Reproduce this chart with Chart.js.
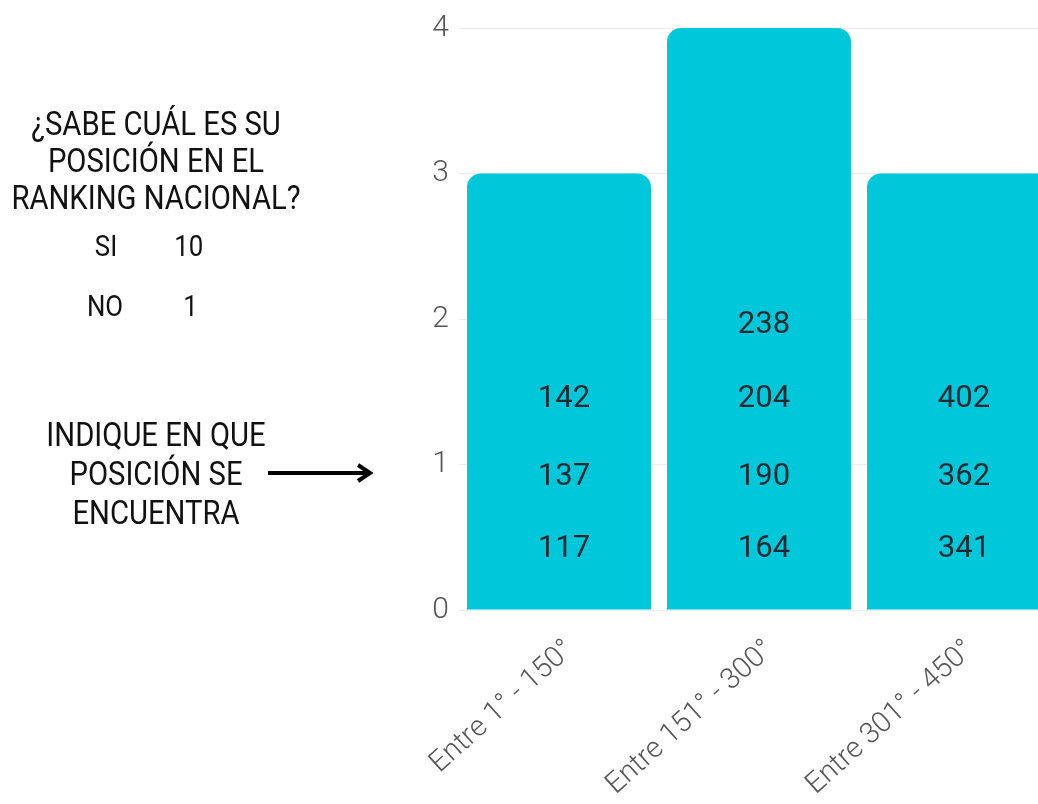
<!DOCTYPE html>
<html lang="es">

<head>
    <meta charset="UTF-8">
    <script src="https://cdn.jsdelivr.net/npm/chart.js@4.4.1/dist/chart.umd.min.js"></script>
    <title>Ranking nacional</title>
    <style>
        html, body { margin: 0; padding: 0; background: #fff; overflow: hidden; width: 1038px; height: 804px; }
        .wrap { position: relative; width: 1038px; height: 804px; overflow: hidden; }
        #rankChart { position: absolute; left: 0; top: 0; }
        .note { position: absolute; font-family: Roboto, sans-serif; color: #111; font-size: 34px; text-align: center; white-space: nowrap; }
        .note div { transform: scaleX(0.86); transform-origin: center; }
        .q { left: -44px; width: 400px; top: 105px; line-height: 37px; }
        .ind { left: -44px; width: 400px; top: 415px; line-height: 39px; }
        .ans { position: absolute; font-family: Roboto, sans-serif; font-size: 30px; color: #111; line-height: 34px; }
        .arrow { position: absolute; left: 262px; top: 460px; }
    </style>
</head>

<body>
    <div class="wrap">
        <canvas id="rankChart" width="1100" height="804"></canvas>

        <!-- left side notes -->
        <div class="note q">
            <div>¿SABE CUÁL ES SU</div>
            <div>POSICIÓN EN EL</div>
            <div>RANKING NACIONAL?</div>
        </div>
        <div id="answers"></div>
        <div class="note ind">
            <div>INDIQUE EN QUE</div>
            <div>POSICIÓN SE</div>
            <div>ENCUENTRA</div>
        </div>
        <svg class="arrow" width="120" height="30">
            <line x1="6" y1="13" x2="106" y2="13" stroke="#000" stroke-width="4" />
            <polyline points="96,5 108,13 96,21" fill="none" stroke="#000" stroke-width="4" stroke-linejoin="miter" />
        </svg>
    </div>

    <script>
        // data
        const categories = ['Entre 1° - 150°', 'Entre 151° - 300°', 'Entre 301° - 450°'];
        const counts = [3, 4, 3];
        const yTicks = [0, 1, 2, 3, 4];
        // positions reported inside each bar (bottom to top)
        const rankCat1 = [117, 137, 142];
        const rankCat2 = [164, 190, 204, 238];
        const rankCat3 = [341, 362, 402];
        const rankLevels = [0.42, 0.91, 1.45, 1.96];
        const answers = ['SI', 'NO'];
        const answerCounts = [10, 1];

        // SI / NO counts
        const ansBox = document.getElementById('answers');
        answers.forEach(function (a, i) {
            const top = 229 + i * 60;
            ansBox.insertAdjacentHTML('beforeend',
                '<div class="ans" style="left:' + (i ? 84 : 93) + 'px;top:' + top + 'px;transform:scaleX(0.86)">' + a + '</div>' +
                '<div class="ans" style="left:' + (i ? 182 : 172) + 'px;top:' + top + 'px;transform:scaleX(0.86)">' + answerCounts[i] + '</div>');
        });

        // numbers written inside the bars
        const rankLabels = {
            id: 'rankLabels',
            afterDatasetsDraw(chart) {
                const ctx = chart.ctx;
                const y = chart.scales.y;
                const meta = chart.getDatasetMeta(0);
                const lists = [rankCat1, rankCat2, rankCat3];
                ctx.save();
                ctx.font = '400 31px Roboto';
                ctx.fillStyle = '#1e2a30';
                ctx.textAlign = 'center';
                ctx.textBaseline = 'middle';
                lists.forEach(function (list, i) {
                    list.forEach(function (v, j) {
                        ctx.fillText(String(v), meta.data[i].x + 5, y.getPixelForValue(rankLevels[j]));
                    });
                });
                ctx.restore();
            }
        };

        const ctx = document.getElementById('rankChart').getContext('2d');
        const rankChart = new Chart(ctx, {
            type: 'bar',
            data: {
                labels: categories,
                datasets: [{
                    data: counts,
                    backgroundColor: '#00C7DA',
                    borderRadius: { topLeft: 14, topRight: 14, bottomLeft: 0, bottomRight: 0 },
                    borderSkipped: false,
                    barPercentage: 1,
                    categoryPercentage: 0.92
                }]
            },
            options: {
                responsive: false,
                animation: false,
                layout: { padding: { left: 400, right: 41, top: 28, bottom: 0 } },
                plugins: {
                    legend: { display: false },
                    tooltip: { enabled: false }
                },
                scales: {
                    x: {
                        grid: { display: false },
                        border: { display: false },
                        ticks: {
                            color: '#555',
                            font: { family: 'Roboto', size: 29, weight: '300' },
                            minRotation: 42,
                            maxRotation: 42,
                            padding: 15,
                            labelOffset: 11
                        },
                        afterFit(s) { s.height = 194; }
                    },
                    y: {
                        min: 0,
                        max: 4,
                        afterBuildTicks(s) { s.ticks = yTicks.map(v => ({ value: v })); },
                        grid: { color: '#ededed', drawTicks: false },
                        border: { display: false },
                        ticks: {
                            color: '#555',
                            font: { family: 'Roboto', size: 30, weight: '300' },
                            padding: 10
                        },
                        afterFit(s) { s.width = 59; }
                    }
                }
            },
            plugins: [rankLabels]
        });
    </script>
</body>

</html>
